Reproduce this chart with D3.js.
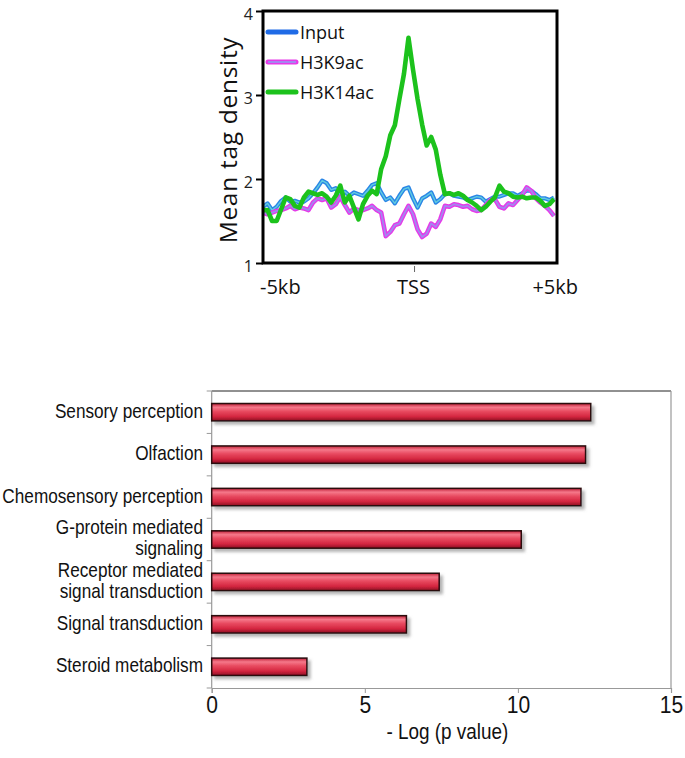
<!DOCTYPE html>
<html><head><meta charset="utf-8">
<script src="https://cdn.jsdelivr.net/npm/d3@7"></script>
<style>body{margin:0;background:#fff}</style>
</head><body><svg id="c" width="685" height="758"></svg>
<script>
// ---------- Top chart data ----------
const seriesNames = ["Input", "H3K9ac", "H3K14ac"];
const positionsKb = [-5,-4.85,-4.7,-4.55,-4.4,-4.25,-4.1,-3.95,-3.8,-3.65,-3.5,-3.35,-3.2,-3.05,-2.9,-2.75,-2.6,-2.45,-2.3,-2.15,-2,-1.85,-1.7,-1.55,-1.4,-1.25,-1.1,-0.95,-0.8,-0.65,-0.5,-0.35,-0.2,-0.05,0.1,0.25,0.4,0.55,0.7,0.85,1,1.15,1.3,1.45,1.6,1.75,1.9,2.05,2.2,2.35,2.5,2.65,2.8,2.95,3.1,3.25,3.4,3.55,3.7,3.85,4,4.15,4.3,4.45,4.6];
const inputValues = [1.67,1.71,1.63,1.67,1.74,1.78,1.73,1.74,1.72,1.73,
  1.77,1.83,1.90,1.98,1.95,1.87,1.89,1.81,1.85,1.80,
  1.84,1.82,1.80,1.86,1.93,1.95,1.84,1.75,1.78,1.71,
  1.80,1.88,1.90,1.77,1.66,1.77,1.80,1.84,1.72,1.76,
  1.82,1.83,1.80,1.79,1.78,1.75,1.77,1.79,1.78,1.73,
  1.76,1.79,1.79,1.81,1.83,1.83,1.80,1.83,1.86,1.86,
  1.82,1.77,1.77,1.75,1.78];
const h3k9acValues = [1.60,1.58,1.60,1.62,1.63,1.65,1.68,1.64,1.66,1.65,
  1.63,1.72,1.77,1.75,1.77,1.66,1.70,1.79,1.69,1.60,
  1.65,1.63,1.63,1.65,1.68,1.63,1.60,1.32,1.37,1.45,
  1.47,1.58,1.68,1.58,1.40,1.31,1.35,1.47,1.43,1.52,
  1.68,1.67,1.70,1.69,1.67,1.68,1.64,1.62,1.63,1.69,
  1.75,1.76,1.67,1.65,1.71,1.69,1.75,1.81,1.90,1.86,
  1.77,1.72,1.68,1.63,1.56];
const h3k14acValues = [1.63,1.63,1.50,1.50,1.64,1.78,1.76,1.68,1.66,1.78,
  1.85,1.83,1.81,1.83,1.79,1.72,1.80,1.92,1.72,1.80,
  1.66,1.52,1.70,1.80,1.86,1.82,2.12,2.27,2.52,2.64,
  2.95,3.25,3.68,3.30,2.95,2.65,2.40,2.50,2.35,2.05,
  1.82,1.83,1.81,1.83,1.80,1.75,1.72,1.68,1.63,1.67,
  1.73,1.78,1.92,1.85,1.83,1.79,1.78,1.79,1.77,1.78,
  1.78,1.74,1.68,1.70,1.76];
const yTicks = [1, 2, 3, 4];
const xTickLabels = ["-5kb", "TSS", "+5kb"];

// ---------- Bottom chart data ----------
const categories = ["Sensory perception", "Olfaction", "Chemosensory perception",
  "G-protein mediated\nsignaling", "Receptor mediated\nsignal transduction",
  "Signal transduction", "Steroid metabolism"];
const negLogP = [12.38, 12.21, 12.06, 10.11, 7.43, 6.36, 3.11];
const barTicks = [0, 5, 10, 15];
const barAxisTitle = "- Log (p value)";

const svg = d3.select("#c");
const topFont = "'Open Sans', 'Liberation Sans', sans-serif";
const narrowFont = "'Liberation Sans', Arial, sans-serif";
const SQ = 0.86; // horizontal condensing of the bar-chart text

// ================= TOP LINE CHART =================
const T = {l: 263, r: 557, t: 11, b: 263};
const x = d3.scaleLinear().domain([-5, 4.7]).range([T.l, T.r]);
const y = d3.scaleLinear().domain([1, 4]).range([T.b, T.t]);
const topG = svg.append("g");

const lineOf = (vals) => d3.line().x((d, i) => x(positionsKb[i])).y(d => y(d))(vals);

const styles = [
  {vals: inputValues, outer: "#2a86e6", ow: 4.2, inner: "#62cce0", iw: 1.4},
  {vals: h3k9acValues, outer: "#e63ae8", ow: 4.6, inner: "#a486f0", iw: 1.8},
  {vals: h3k14acValues, outer: "#1cc21c", ow: 4.6, inner: null}
];
styles.forEach(s => {
  topG.append("path").attr("d", lineOf(s.vals)).attr("fill", "none")
    .attr("stroke", s.outer).attr("stroke-width", s.ow).attr("stroke-linejoin", "round");
  if (s.inner) topG.append("path").attr("d", lineOf(s.vals)).attr("fill", "none")
    .attr("stroke", s.inner).attr("stroke-width", s.iw).attr("stroke-linejoin", "round");
});

// frame
topG.append("rect").attr("x", T.l).attr("y", T.t).attr("width", T.r - T.l).attr("height", T.b - T.t)
  .attr("fill", "none").attr("stroke", "#000").attr("stroke-width", 3);

// y axis
const yAx = topG.append("g").attr("transform", `translate(${T.l},0)`)
  .call(d3.axisLeft(y).tickValues(yTicks).tickSize(7).tickPadding(3).tickFormat(d3.format("d")));
yAx.select(".domain").remove();
yAx.selectAll(".tick line").attr("stroke", "#000").attr("stroke-width", 2);
yAx.selectAll(".tick text").attr("font-family", topFont).attr("font-size", 16)
  .attr("fill", "#222").attr("dy", "0.5em");

// y title
topG.append("text").attr("transform", `translate(237,${(T.t + T.b) / 2 + 3}) rotate(-90)`)
  .attr("text-anchor", "middle").attr("font-family", topFont).attr("font-size", 24.5)
  .attr("letter-spacing", 0.7).attr("fill", "#111").text("Mean tag density");

// x tick at TSS
topG.append("line").attr("x1", x(0)).attr("x2", x(0)).attr("y1", T.b + 3).attr("y2", T.b + 9)
  .attr("stroke", "#666").attr("stroke-width", 1);
topG.append("text").attr("x", x(-5) - 3).attr("y", 294).attr("text-anchor", "start")
  .attr("font-family", topFont).attr("font-size", 20).attr("fill", "#111").text(xTickLabels[0]);
topG.append("text").attr("x", x(0) - 1).attr("y", 294).attr("text-anchor", "middle")
  .attr("font-family", topFont).attr("font-size", 20).attr("fill", "#111").text(xTickLabels[1]);
topG.append("text").attr("x", T.r + 21).attr("y", 294).attr("text-anchor", "end")
  .attr("font-family", topFont).attr("font-size", 20).attr("fill", "#111").text(xTickLabels[2]);

// legend
const legY = [32, 62, 92];
seriesNames.forEach((n, i) => {
  const s = styles[i];
  const g = topG.append("g").attr("transform", `translate(268,${legY[i]})`);
  g.append("line").attr("x1", 0).attr("x2", 28).attr("stroke", i === 0 ? "#1f6be6" : s.outer)
    .attr("stroke-width", 5).attr("stroke-linecap", "round");
  if (i === 1) g.append("line").attr("x1", 0).attr("x2", 28).attr("stroke", s.inner).attr("stroke-width", 2);
  g.append("text").attr("x", 32).attr("y", 6.5).attr("font-family", topFont).attr("font-size", 18)
    .attr("fill", "#111").text(n);
});

// ================= BOTTOM BAR CHART =================
const B = {l: 211.7, r: 671, t: 391, b: 688};
const bx = d3.scaleLinear().domain([0, 15]).range([B.l, B.r]);
const by = d3.scaleBand().domain(categories).range([B.t, B.b]).paddingInner(0.59).paddingOuter(0.295);
const bot = svg.append("g");

const defs = svg.append("defs");
const grad = defs.append("linearGradient").attr("id", "barGrad").attr("x1", 0).attr("x2", 0).attr("y1", 0).attr("y2", 1);
[[0, "#c02038"], [0.22, "#f5788a"], [0.45, "#e84a60"], [0.75, "#d42640"], [1, "#8c1022"]]
  .forEach(([o, c]) => grad.append("stop").attr("offset", o).attr("stop-color", c));
const f = defs.append("filter").attr("id", "sh").attr("x", "-5%").attr("y", "-40%").attr("width", "115%").attr("height", "200%");
f.append("feDropShadow").attr("dx", 3).attr("dy", 3).attr("stdDeviation", 1.6)
  .attr("flood-color", "#777").attr("flood-opacity", 0.55);

// frame lines
bot.append("line").attr("x1", B.l).attr("x2", B.r).attr("y1", B.t).attr("y2", B.t).attr("stroke", "#222").attr("stroke-width", 1);
bot.append("line").attr("x1", B.r).attr("x2", B.r).attr("y1", B.t).attr("y2", B.b).attr("stroke", "#999").attr("stroke-width", 1.2);

// x axis
const bxAx = bot.append("g").attr("transform", `translate(0,${B.b})`)
  .call(d3.axisBottom(bx).tickValues(barTicks).tickSize(5).tickPadding(3).tickFormat(d3.format("d")));
bxAx.select(".domain").attr("stroke", "#999").attr("stroke-width", 1.2);
bxAx.selectAll(".tick line").attr("stroke", "#999");
bxAx.selectAll(".tick text").attr("font-family", narrowFont).attr("font-size", 24.5).attr("fill", "#111")
  .attr("transform", `scale(${SQ},1)`);

// y axis (category boundaries)
bot.append("line").attr("x1", B.l).attr("x2", B.l).attr("y1", B.t).attr("y2", B.b).attr("stroke", "#999").attr("stroke-width", 1.2);
d3.range(categories.length + 1).forEach(i => {
  const yy = B.t + i * by.step();
  bot.append("line").attr("x1", B.l - 5).attr("x2", B.l).attr("y1", yy).attr("y2", yy).attr("stroke", "#999");
});

// bars
bot.selectAll("rect.bar").data(categories).join("rect").attr("class", "bar")
  .attr("x", B.l).attr("y", d => by(d)).attr("height", by.bandwidth())
  .attr("width", (d, i) => bx(negLogP[i]) - B.l)
  .attr("fill", "url(#barGrad)").attr("stroke", "#2a080c").attr("stroke-width", 1.5)
  .attr("filter", "url(#sh)");

// category labels
categories.forEach(c => {
  const lines = c.split("\n");
  const cy = by(c) + by.bandwidth() / 2;
  const t = bot.append("text").attr("text-anchor", "end").attr("font-family", narrowFont)
    .attr("font-size", 20).attr("fill", "#111")
    .attr("transform", `translate(203,0) scale(${SQ},1)`);
  lines.forEach((ln, j) => {
    t.append("tspan").attr("x", 0).attr("y", cy + 5.5 + (j - (lines.length - 1) / 2) * 21).text(ln);
  });
});

// axis title
bot.append("text").attr("transform", `translate(${(B.l + B.r) / 2 + 6},739) scale(${SQ},1)`)
  .attr("text-anchor", "middle")
  .attr("font-family", narrowFont).attr("font-size", 22).attr("fill", "#111").text(barAxisTitle);
</script></body></html>
